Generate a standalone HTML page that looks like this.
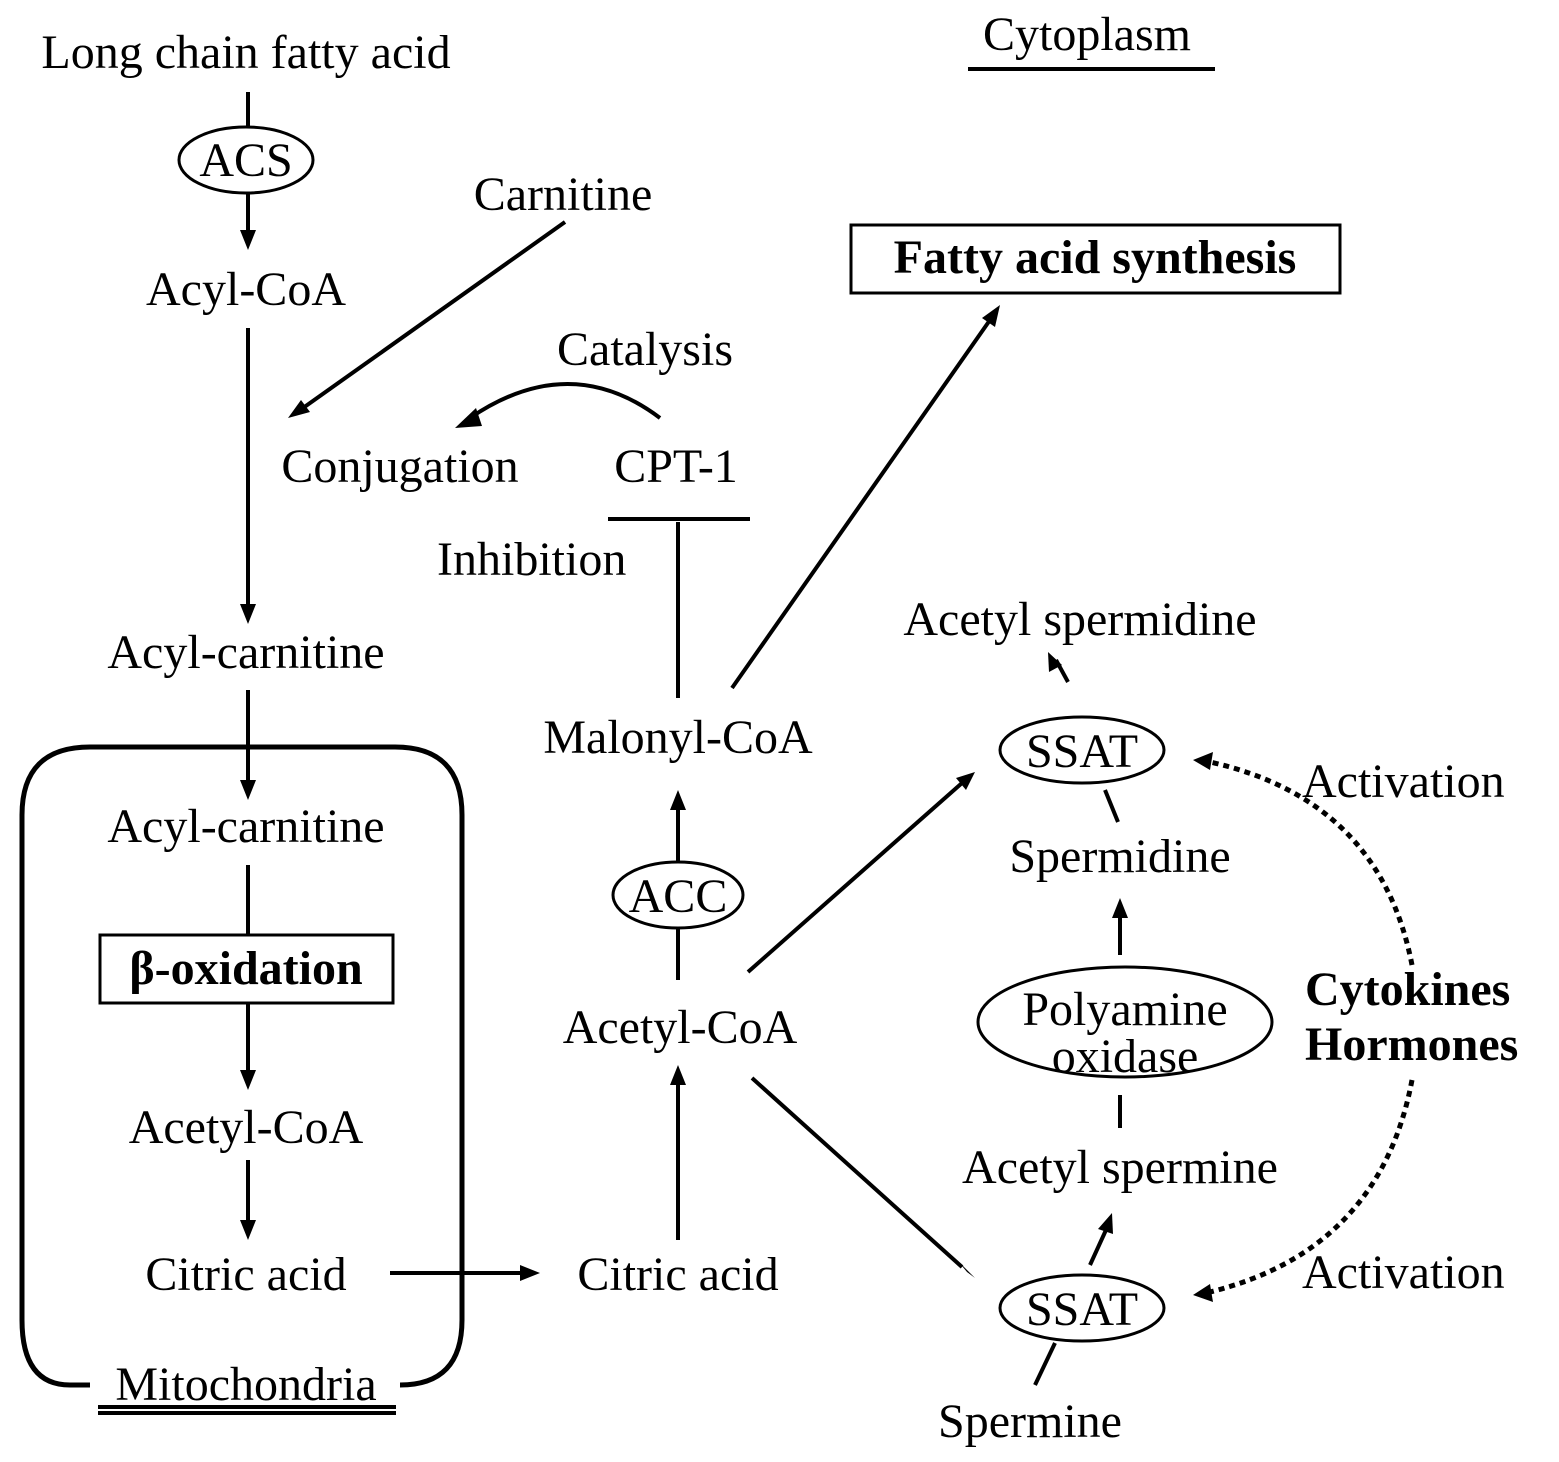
<!DOCTYPE html>
<html><head><style>
html,body{margin:0;padding:0;background:#fff;}
svg{display:block;}
text{font-family:"Liberation Serif",serif;font-size:48px;fill:#000;}
.b{font-weight:bold;}
</style></head><body>
<svg width="1559" height="1462" viewBox="0 0 1559 1462" xmlns="http://www.w3.org/2000/svg">
<defs>
<marker id="a" viewBox="0 0 10 10" refX="9" refY="5" markerWidth="6" markerHeight="6" orient="auto" markerUnits="userSpaceOnUse" style="overflow:visible">
<path d="M0,0 L10,5 L0,10 z" fill="#000" transform="scale(2.4) translate(-5,-5) translate(5,5)"/>
</marker>
</defs>
<style>
line,path.l{stroke:#000;stroke-width:4;fill:none;}
</style>
<g stroke="#000" stroke-width="4" fill="none">
<!-- left column -->
<line x1="248" y1="92" x2="248" y2="127"/>
<ellipse cx="246" cy="160" rx="67" ry="33" stroke-width="3"/>
<line x1="248" y1="193" x2="248" y2="232"/>
<line x1="248" y1="328" x2="248" y2="604"/>
<line x1="248" y1="690" x2="248" y2="782"/>
<path d="M90,1385 L70,1385 Q22,1385 22,1320 L22,815 Q22,747 90,747 L395,747 Q462,747 462,815 L462,1320 Q462,1385 400,1385" stroke-width="5"/>
<line x1="248" y1="865" x2="248" y2="935"/>
<rect x="100" y="935" width="293" height="68" stroke-width="3"/>
<line x1="248" y1="1003" x2="248" y2="1072"/>
<line x1="248" y1="1160" x2="248" y2="1222"/>
<line x1="390" y1="1273" x2="522" y2="1273"/>
<line x1="98" y1="1407" x2="396" y2="1407" stroke-width="3"/>
<line x1="98" y1="1413" x2="396" y2="1413" stroke-width="3"/>
<!-- middle -->
<line x1="678" y1="1240" x2="678" y2="1083"/>
<line x1="678" y1="980" x2="678" y2="928"/>
<ellipse cx="678" cy="895" rx="65" ry="33" stroke-width="3"/>
<line x1="678" y1="862" x2="678" y2="808"/>
<line x1="678" y1="698" x2="678" y2="522" stroke-width="10"/>
<line x1="608" y1="519" x2="750" y2="519" stroke-width="10"/>
<path d="M660,418 Q570,350 470,418"/>
<line x1="565" y1="222" x2="303" y2="408"/>
<line x1="732" y1="688" x2="990" y2="320"/>
<rect x="851" y="225" width="489" height="68" stroke-width="3"/>
<line x1="968" y1="69" x2="1215" y2="69" stroke-width="4"/>
<!-- right -->
<line x1="748" y1="972" x2="962" y2="783"/>
<line x1="752" y1="1078" x2="962" y2="1267"/>
<line x1="1068" y1="682" x2="1056" y2="660"/>
<ellipse cx="1082" cy="750" rx="82" ry="33" stroke-width="3"/>
<line x1="1105" y1="790" x2="1118" y2="822"/>
<line x1="1120" y1="955" x2="1120" y2="915"/>
<ellipse cx="1125" cy="1022" rx="147" ry="55" stroke-width="3"/>
<line x1="1120" y1="1095" x2="1120" y2="1128"/>
<line x1="1090" y1="1265" x2="1106" y2="1230"/>
<ellipse cx="1082" cy="1308" rx="82" ry="33" stroke-width="3"/>
<line x1="1055" y1="1343" x2="1035" y2="1385"/>
<path d="M1412,965 Q1380,800 1210,762" stroke-dasharray="6,5" stroke-width="5"/>
<path d="M1412,1080 Q1380,1250 1210,1292" stroke-dasharray="6,5" stroke-width="5"/>
</g>
<g fill="#000">
<polygon points="248,250 240,230 256,230"/>
<polygon points="248,624 240,604 256,604"/>
<polygon points="248,800 240,780 256,780"/>
<polygon points="248,1090 240,1070 256,1070"/>
<polygon points="248,1240 240,1220 256,1220"/>
<polygon points="540,1273 520,1265 520,1281"/>
<polygon points="678,1065 670,1085 686,1085"/>
<polygon points="678,790 670,810 686,810"/>
<polygon points="455,428 476,408 482,426"/>
<polygon points="288,418 301,400 310,412"/>
<polygon points="1000,305 982,318 995,327"/>
<polygon points="975,772 956,778 966,790"/>
<polygon points="975,1278 957,1260 967,1272"/>
<polygon points="1048,652 1049,672 1062,665"/>
<polygon points="1120,898 1112,918 1128,918"/>
<polygon points="1112,1213 1098,1229 1113,1234"/>
<polygon points="1193,760 1213,752 1210,770"/>
<polygon points="1193,1295 1210,1284 1213,1302"/>
</g>
<text x="246" y="68" text-anchor="middle">Long chain fatty acid</text>
<text x="246" y="176" text-anchor="middle">ACS</text>
<text x="246" y="305" text-anchor="middle">Acyl-CoA</text>
<text x="246" y="668" text-anchor="middle">Acyl-carnitine</text>
<text x="246" y="842" text-anchor="middle">Acyl-carnitine</text>
<text x="246" y="984" text-anchor="middle" class="b">β-oxidation</text>
<text x="246" y="1143" text-anchor="middle">Acetyl-CoA</text>
<text x="246" y="1290" text-anchor="middle">Citric acid</text>
<text x="246" y="1400" text-anchor="middle">Mitochondria</text>
<text x="678" y="1290" text-anchor="middle">Citric acid</text>
<text x="680" y="1043" text-anchor="middle">Acetyl-CoA</text>
<text x="678" y="912" text-anchor="middle">ACC</text>
<text x="678" y="753" text-anchor="middle">Malonyl-CoA</text>
<text x="437" y="575">Inhibition</text>
<text x="676" y="482" text-anchor="middle">CPT-1</text>
<text x="400" y="482" text-anchor="middle">Conjugation</text>
<text x="645" y="365" text-anchor="middle">Catalysis</text>
<text x="563" y="210" text-anchor="middle">Carnitine</text>
<text x="1095" y="273" text-anchor="middle" class="b">Fatty acid synthesis</text>
<text x="1087" y="50" text-anchor="middle">Cytoplasm</text>
<text x="1080" y="635" text-anchor="middle">Acetyl spermidine</text>
<text x="1082" y="767" text-anchor="middle">SSAT</text>
<text x="1120" y="872" text-anchor="middle">Spermidine</text>
<text x="1125" y="1025" text-anchor="middle">Polyamine</text>
<text x="1125" y="1072" text-anchor="middle">oxidase</text>
<text x="1120" y="1183" text-anchor="middle">Acetyl spermine</text>
<text x="1082" y="1325" text-anchor="middle">SSAT</text>
<text x="1030" y="1437" text-anchor="middle">Spermine</text>
<text x="1302" y="797">Activation</text>
<text x="1302" y="1288">Activation</text>
<text x="1305" y="1005" class="b">Cytokines</text>
<text x="1305" y="1060" class="b">Hormones</text>
</svg>
</body></html>
